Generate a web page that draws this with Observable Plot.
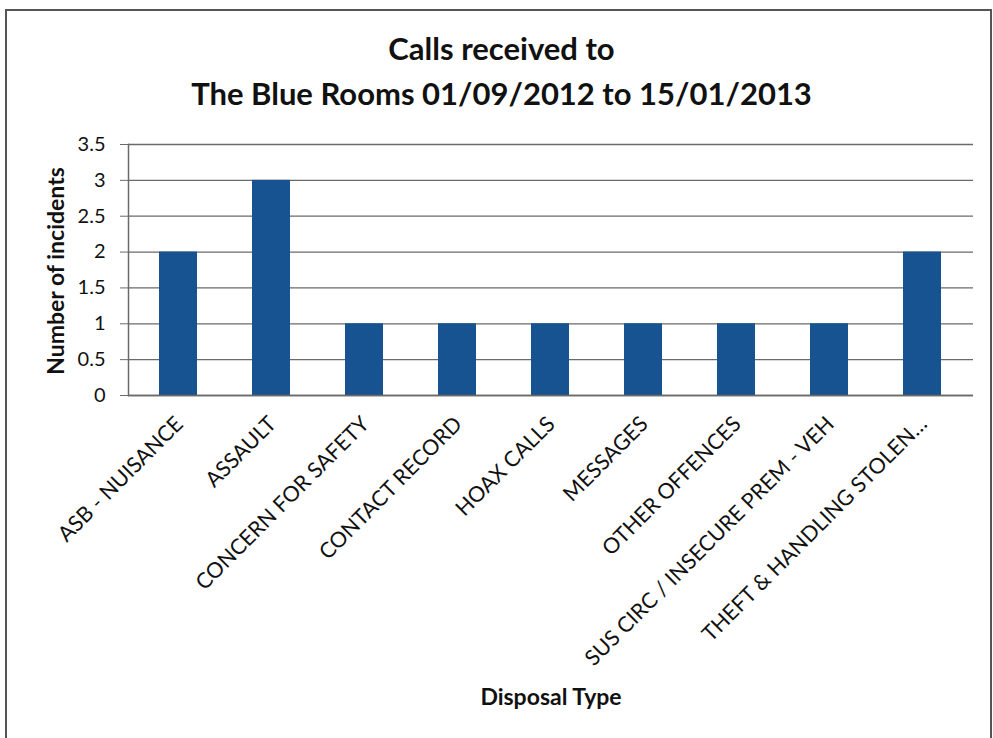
<!DOCTYPE html>
<html><head><meta charset="utf-8">
<script src="https://cdn.jsdelivr.net/npm/d3@7"></script>
<script src="https://cdn.jsdelivr.net/npm/@observablehq/plot@0.6"></script>
<style>
body{margin:0;background:#fff;}
#wrap{position:relative;width:993px;height:738px;overflow:hidden;font-family:Lato,sans-serif;}
#frame{position:absolute;left:5px;top:9px;width:983px;height:760px;border:2px solid #555;}
#title{position:absolute;left:5px;top:26px;width:993px;text-align:center;font-weight:bold;font-size:31px;line-height:45px;color:#111;}
#ylab{position:absolute;left:55px;top:271px;transform:translate(-50%,-50%) rotate(-90deg);white-space:nowrap;font-weight:bold;font-size:23px;color:#111;}
svg{position:absolute;left:0;top:0;}
</style></head><body>
<div id="wrap"><div id="frame"></div><div id="title">Calls received to<br>The Blue Rooms 01/09/2012 to 15/01/2013</div></div>
<script>
const categories = ["ASB - NUISANCE","ASSAULT","CONCERN FOR SAFETY","CONTACT RECORD","HOAX CALLS","MESSAGES","OTHER OFFENCES","SUS CIRC / INSECURE PREM - VEH","THEFT & HANDLING STOLEN\u2026"];
const counts = [2,3,1,1,1,1,1,1,2];
const yTicks = [0,0.5,1,1.5,2,2.5,3,3.5];
const yLabel = "Number of incidents";
const xLabel = "Disposal Type";

const data = categories.map((c,i)=>({category:c,count:counts[i]}));
const chart = Plot.plot({
  width:993,height:738,marginTop:144,marginBottom:343,marginLeft:128,marginRight:20,
  style:{fontFamily:"Lato, sans-serif",color:"#111",background:"transparent"},
  x:{domain:categories,paddingInner:0.59,paddingOuter:0.295,label:null},
  y:{domain:[0,3.5],label:null},
  marks:[
    Plot.gridY(yTicks,{stroke:"#6a6a6a",strokeOpacity:1,strokeWidth:1.3}),
    Plot.barY(data,{x:"category",y:"count",fill:"#185391"}),
    Plot.frame({anchor:"left",stroke:"#6a6a6a",strokeWidth:1.5}),
    Plot.ruleY([0],{stroke:"#6a6a6a",strokeWidth:1.5}),
    Plot.axisY({ticks:yTicks,tickSize:8,tickPadding:15,fontSize:20,tickFormat:d=>String(d),label:null,stroke:"#6a6a6a"}),
    Plot.axisX({tickSize:0,tickRotate:-45,tickPadding:25,dx:1,fontSize:21.5,label:null}),
    Plot.text([xLabel],{frameAnchor:"bottom",dy:309,fontSize:23,fontWeight:"bold",fill:"#111"})
  ]
});
document.getElementById("wrap").appendChild(chart);
const yl = document.createElement("div");
yl.id = "ylab"; yl.textContent = yLabel;
document.getElementById("wrap").appendChild(yl);
</script>
</body></html>
